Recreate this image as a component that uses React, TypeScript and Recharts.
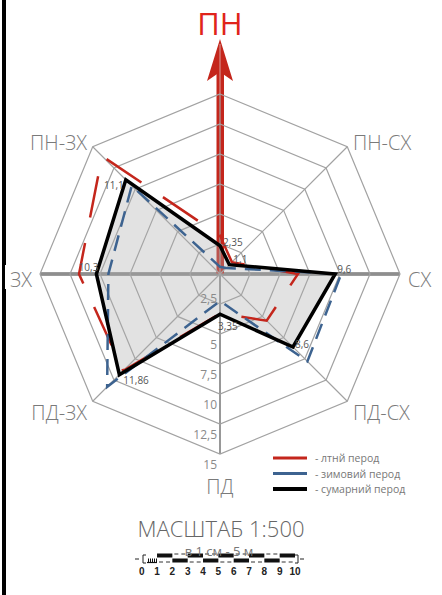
import React from 'react';
import { RadarChart, Radar, PolarGrid, PolarAngleAxis, PolarRadiusAxis } from 'recharts';

// directions clockwise from north
const DIRECTIONS = ['ПН', 'ПН-СХ', 'СХ', 'ПД-СХ', 'ПД', 'ПД-ЗХ', 'ЗХ', 'ПН-ЗХ'];
const SUMMER = [3.2, 1.4, 6.5, 5.5, 3.3, 11.4, 11.75, 13.9];
const WINTER = [0.6, 0.7, 10.1, 10.3, 2.25, 13.3, 9.3, 10.4];
const TOTAL = [2.35, 1.1, 9.6, 8.6, 3.35, 11.86, 10.3, 11.1];
const RADIUS_TICKS = [2.5, 5, 7.5, 10, 12.5, 15];
const LEGEND_ITEMS = ['- лтнй перод', '- зимовий перод', '- сумарний перод'];
const SCALE_TICKS = [0, 1, 2, 3, 4, 5, 6, 7, 8, 9, 10];

const data = DIRECTIONS.map((dir, i) => ({
  dir,
  summer: SUMMER[i],
  winter: WINTER[i],
  total: TOTAL[i],
}));

const W = 442;
const H = 595;
const CX = 220;
const CY = 274;
const R = 180;

const FONT = '"Open Sans", "Noto Sans", sans-serif';
const RED = '#c4261c';
const BLUE = '#3d6390';
const GRID = '#a2a2a2';
const LEGEND_COLORS = [RED, BLUE, '#000'];

const fmt = (v: number) => String(v).replace('.', ',');

// baseline shift of the direction labels
const LABEL_DY: Record<string, number> = {
  'ПН-СХ': 9,
  'СХ': 13,
  'ПД-СХ': 13,
  'ПД': 32,
  'ПД-ЗХ': 13,
  'ЗХ': 13,
  'ПН-ЗХ': 9,
};

// value label offsets for the total series
const VALUE_OFFSETS: Array<[number, number, string]> = [
  [3, -4, 'start'],
  [4, -6, 'start'],
  [2, -5, 'start'],
  [2, -3, 'start'],
  [-2, 12, 'start'],
  [4, 5, 'start'],
  [2, -7, 'end'],
  [-2, 5, 'end'],
];

const AngleTick = (props: any) => {
  const { x, y, payload, textAnchor } = props;
  const label = payload.value;
  if (label === 'ПН') {
    return (
      <text x={x} y={35} textAnchor="middle" fontSize={31} fill="#e0241b" fontFamily={FONT}>
        {label}
      </text>
    );
  }
  return (
    <g>
      {label === 'ЗХ' && <rect x={x - 27} y={y - 9} width={29} height={24} fill="#fff" />}
      <text
        x={x}
        y={y + (LABEL_DY[label] || 0)}
        textAnchor={textAnchor}
        fontSize={20}
        fill="#7a7a7a"
        fontFamily={FONT}
        fontWeight={300}
      >
        {label}
      </text>
    </g>
  );
};

const RadiusTick = (props: any) => {
  const { x, y, payload } = props;
  const v = payload.value;
  return (
    <text x={x - 3} y={v === 2.5 ? y - 1 : y + 15} textAnchor="end" fontSize={12} fill="#8a8a8a" fontFamily={FONT}>
      {fmt(v)}
    </text>
  );
};

const renderTotalLabel = (props: any) => {
  const x = props.x ?? props.viewBox?.x;
  const y = props.y ?? props.viewBox?.y;
  const idx = props.index ?? 0;
  const [dx, dy, anchor] = VALUE_OFFSETS[idx] || [0, 0, 'start'];
  return (
    <text
      key={`lbl-${idx}`}
      x={x + dx}
      y={y + dy}
      dominantBaseline="central"
      textAnchor={anchor}
      fontSize={10}
      fill="#555"
      fontFamily={FONT}
    >
      {fmt(props.value)}
    </text>
  );
};

const sx = (i: number) => 141.7 + 15.33 * i;

const ScaleBar = () => (
  <g>
    <text x={221} y={537} textAnchor="middle" fontSize={22} fill="#666" fontFamily={FONT} fontWeight={300}>
      МАСШТАБ 1:500
    </text>
    {/* bar */}
    <line x1={135} y1={559} x2={139} y2={559} stroke="#222" strokeWidth={1} />
    <path d="M146,555 L143,555 L143,563 L146,563" fill="none" stroke="#222" strokeWidth={1} />
    <line x1={147} y1={562.5} x2={sx(1)} y2={562.5} stroke="#111" strokeWidth={1.2} />
    {[0, 1, 2, 3, 4].map((k) => (
      <line key={k} x1={148.5 + k * 2} y1={558.5} x2={148.5 + k * 2} y2={562.5} stroke="#111" strokeWidth={1} />
    ))}
    {SCALE_TICKS.slice(1, 10).map((i) => {
      const top = i % 2 === 1;
      return (
        <g key={`seg-${i}`}>
          <rect x={sx(i)} y={top ? 553.5 : 558.5} width={15.33} height={4} fill="#111" />
          <line
            x1={sx(i) + 2}
            y1={top ? 562 : 554}
            x2={sx(i + 1) - 2}
            y2={top ? 562 : 554}
            stroke="#333"
            strokeWidth={1}
            strokeDasharray="4 3"
          />
        </g>
      );
    })}
    <path d="M295,555 L298,555 L298,563 L295,563" fill="none" stroke="#222" strokeWidth={1} />
    <line x1={300} y1={559} x2={304} y2={559} stroke="#222" strokeWidth={1} />
    <text x={219} y={556} textAnchor="middle" fontSize={13} fill="#777" fontFamily={FONT}>
      в 1 см - 5 м
    </text>
    {SCALE_TICKS.map((t) => (
      <text
        key={`st-${t}`}
        x={sx(t)}
        y={575}
        textAnchor="middle"
        fontSize={10}
        fontWeight="bold"
        fill="#222"
        fontFamily='"Liberation Sans", Arial, sans-serif'
      >
        {t}
      </text>
    ))}
  </g>
);

export default function App() {
  return (
    <div style={{ position: 'absolute', left: 0, top: 0, width: W, height: H, background: '#fff', overflow: 'hidden' }}>
      <svg width={W} height={H} style={{ position: 'absolute', left: 0, top: 0 }}>
        <rect x={2} y={0} width={4} height={H} fill="#000" />
        <line x1={CX - R} y1={CY} x2={CX + R} y2={CY} stroke="#7a7a7a" strokeWidth={3.5} />
        <line x1={CX} y1={CY} x2={CX} y2={CY + R} stroke="#8a8a8a" strokeWidth={2} />
        <rect x={216.5} y={70} width={7.5} height={CY - 70} fill={RED} />
        <polygon points="220,39 233,81 220,72 207,81" fill={RED} />
        <line x1={CX} y1={44} x2={CX} y2={CY - R} stroke="#d9a09c" strokeWidth={1} />
      </svg>
      <div style={{ position: 'absolute', left: 0, top: 0 }}>
        <RadarChart
          width={W}
          height={H}
          data={data}
          cx={CX}
          cy={CY}
          outerRadius={R}
          startAngle={90}
          endAngle={-270}
          margin={{ top: 0, right: 0, bottom: 0, left: 0 }}
        >
          <PolarGrid gridType="polygon" stroke={GRID} strokeWidth={1.2} />
          <PolarAngleAxis dataKey="dir" tick={<AngleTick />} axisLine={false} tickLine={false} />
          <PolarRadiusAxis
            angle={-90}
            type="number"
            domain={[0, 15]}
            ticks={RADIUS_TICKS}
            axisLine={false}
            tickLine={false}
            tick={<RadiusTick />}
          />
          <Radar dataKey="total" stroke="none" fill="#acacac" fillOpacity={0.35} isAnimationActive={false} />
          <Radar
            dataKey="summer"
            stroke={RED}
            strokeWidth={2.5}
            strokeDasharray="42 26"
            fill="none"
            fillOpacity={0}
            isAnimationActive={false}
          />
          <Radar
            dataKey="winter"
            stroke={BLUE}
            strokeWidth={2.5}
            strokeDasharray="16 9"
            fill="none"
            fillOpacity={0}
            isAnimationActive={false}
          />
          <Radar
            dataKey="total"
            stroke="#000"
            strokeWidth={3.5}
            fill="none"
            fillOpacity={0}
            label={renderTotalLabel}
            isAnimationActive={false}
          />
        </RadarChart>
      </div>
      <svg width={W} height={H} style={{ position: 'absolute', left: 0, top: 0, pointerEvents: 'none' }}>
        {LEGEND_ITEMS.map((item, i) => (
          <g key={item}>
            <line
              x1={273}
              y1={458 + i * 15.5}
              x2={307}
              y2={458 + i * 15.5}
              stroke={LEGEND_COLORS[i]}
              strokeWidth={i === 2 ? 4 : 3}
            />
            <text x={315} y={462 + i * 15.5} fontSize={10.5} fill="#777" fontFamily={FONT}>
              {item}
            </text>
          </g>
        ))}
        <ScaleBar />
      </svg>
    </div>
  );
}
